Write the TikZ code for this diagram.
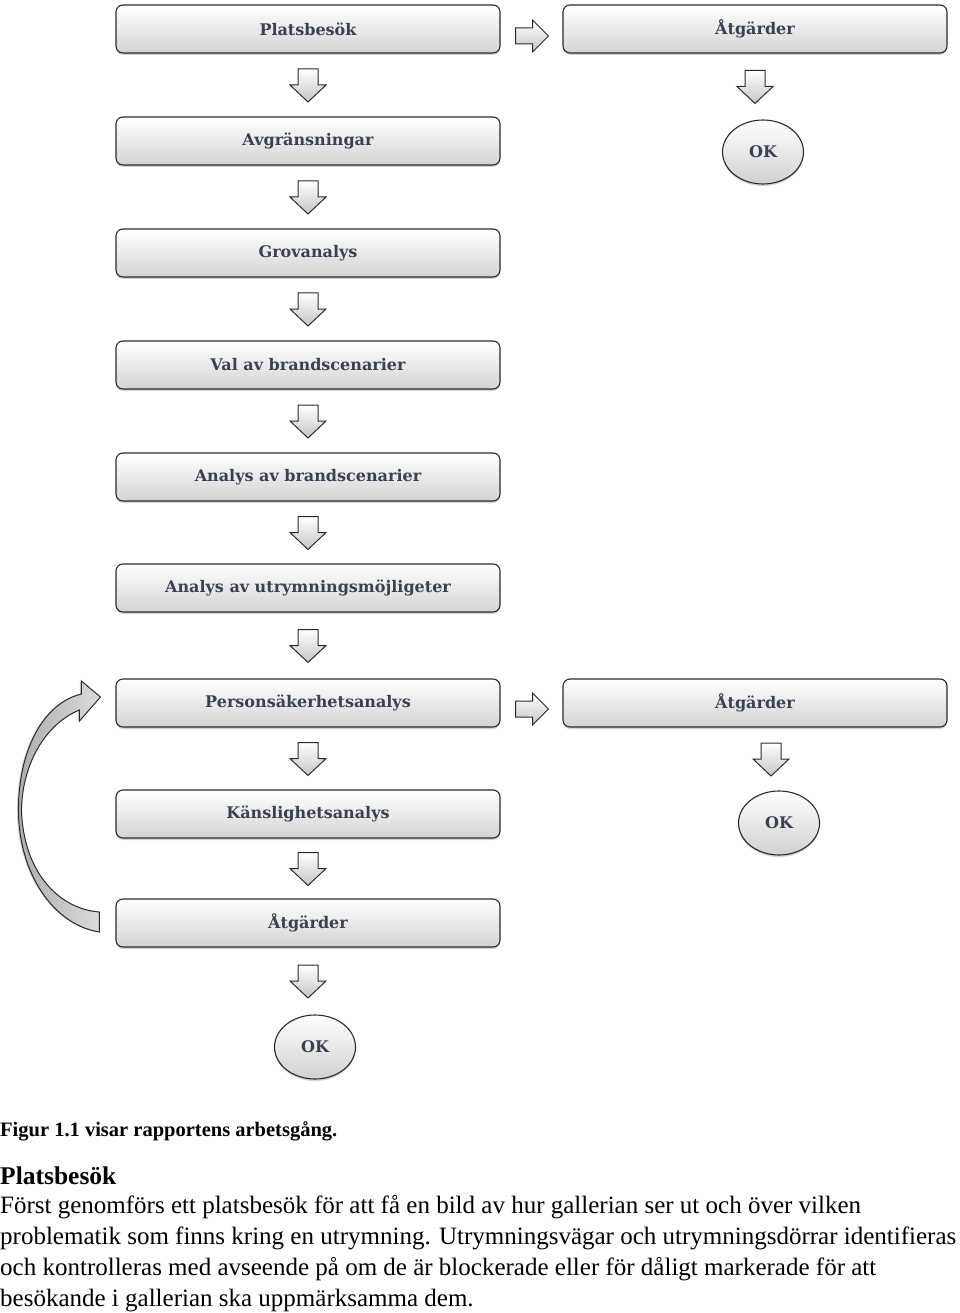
\documentclass[tikz,border=0pt]{standalone}
\usepackage{fontspec}
\setmainfont{Liberation Serif}
\newfontfamily\boxfont{DejaVu Serif}
\usetikzlibrary{shadows,calc,shapes.geometric}
\definecolor{boxtext}{HTML}{3A4252}
\definecolor{edge}{HTML}{2A2A2A}
\tikzset{
  stepbox/.style={draw=edge, line width=1.1pt, rounded corners=7pt,
    minimum width=384pt, minimum height=48pt, inner sep=0pt,
    top color=white, bottom color=black!17,
    drop shadow={shadow xshift=0pt, shadow yshift=-2pt, opacity=0.35},
    font=\boxfont\bfseries\fontsize{16}{18}\selectfont, text=boxtext},
  okbox/.style={draw=edge, line width=1.1pt, ellipse, inner sep=0pt,
    minimum width=81pt, minimum height=64pt,
    top color=white, bottom color=black!18,
    drop shadow={shadow xshift=0pt, shadow yshift=-2pt, opacity=0.35},
    font=\boxfont\bfseries\fontsize{16}{18}\selectfont, text=boxtext},
  blockarrow/.style={draw=edge, line width=1pt, top color=white, bottom color=black!22},
  curvearrow/.style={draw=edge, line width=1pt, left color=black!32, right color=black!14,
    drop shadow={shadow xshift=-1.5pt, shadow yshift=0pt, opacity=0.35}},
  darrow/.pic={\path[blockarrow] (-10,-16) -- (10,-16) -- (10,0) -- (18,0) -- (0,17) -- (-18,0) -- (-10,0) -- cycle;},
  rarrow/.pic={\path[blockarrow] (-16,-8) -- (1,-8) -- (1,-16) -- (17,0) -- (1,16) -- (1,8) -- (-16,8) -- cycle;},
  bodytext/.style={anchor=base west, inner sep=0pt, font=\fontsize{25}{31}\selectfont},
}
\begin{document}
\begin{tikzpicture}[x=1pt,y=-1pt]
\useasboundingbox (0,0) rectangle (960,1313);
% left column
\node[stepbox] (b1) at (308,29)  {Platsbesök};
\node[stepbox] (b2) at (308,141) {Avgränsningar};
\node[stepbox] (b3) at (308,253) {Grovanalys};
\node[stepbox] (b4) at (308,365) {Val av brandscenarier};
\node[stepbox] (b5) at (308,477) {Analys av brandscenarier};
\node[stepbox] (b6) at (308,588) {Analys av utrymningsmöjligeter};
\node[stepbox] (b7) at (308,703) {Personsäkerhetsanalys};
\node[stepbox] (b8) at (308,814) {Känslighetsanalys};
\node[stepbox] (b9) at (308,923) {Åtgärder};
\node[okbox]   (ok3) at (315,1047) {OK};
% right column
\node[stepbox] (r1) at (755,29)  {Åtgärder};
\node[okbox]   (ok1) at (763,152) {OK};
\node[stepbox] (r2) at (755,703) {Åtgärder};
\node[okbox]   (ok2) at (779,823) {OK};
% down arrows
\foreach \a/\b in {b1/b2,b2/b3,b3/b4,b4/b5,b5/b6,b6/b7,b7/b8,b8/b9}{
  \pic at ($(\a.south)!0.5!(\b.north)$) {darrow};
}
\pic at ($(b9.south)!0.5!(ok3.north)+(-3.5,0)$) {darrow};
\pic at ($(r1.south)!0.5!(ok1.north)+(-4,0)$) {darrow};
\pic at ($(r2.south)!0.5!(ok2.north)+(4,0)$) {darrow};
% right arrows
\pic at ($(b1.east)!0.5!(r1.west)+(0,7)$) {rarrow};
\pic at ($(b7.east)!0.5!(r2.west)+(0,6)$) {rarrow};
% curved feedback arrow
\coordinate (B) at (b9.west);
\coordinate (P) at (b7.west);
\path[curvearrow]
  ($(B)+(-16,9)$) .. controls ($(B)+(-62,2)$) and ($(B)+(-97,-50)$) .. ($(B)+(-97,-113)$)
  .. controls ($(P)+(-97,47)$) and ($(P)+(-72,0)$) .. ($(P)+(-34,-9)$)
  -- ($(P)+(-34,-22)$) -- ($(P)+(-15,-6)$) -- ($(P)+(-36,18)$) -- ($(P)+(-36,7)$)
  .. controls ($(P)+(-68,20)$) and ($(P)+(-93,58)$) .. ($(B)+(-94,-113)$)
  .. controls ($(B)+(-92,-50)$) and ($(B)+(-56,-14)$) .. ($(B)+(-16,-11)$) -- cycle;
% text below
\node[anchor=base west, inner sep=0pt, font=\bfseries\fontsize{20.5}{24}\selectfont] (cap) at (0,1136) {Figur 1.1 visar rapportens arbetsgång.};
\node[anchor=base west, inner sep=0pt, font=\bfseries\fontsize{25.5}{30}\selectfont] (head) at (0,1184) {Platsbesök};
\node[bodytext] (l1) at (0,1213) {Först genomförs ett platsbesök för att få en bild av hur gallerian ser ut och över vilken};
\node[bodytext] (l2) at (0,1244) {problematik som finns kring en utrymning. Utrymningsvägar och utrymningsdörrar identifieras};
\node[bodytext] (l3) at (0,1275) {och kontrolleras med avseende på om de är blockerade eller för dåligt markerade för att};
\node[bodytext] (l4) at (0,1306) {besökande i gallerian ska uppmärksamma dem.};
\end{tikzpicture}
\end{document}
